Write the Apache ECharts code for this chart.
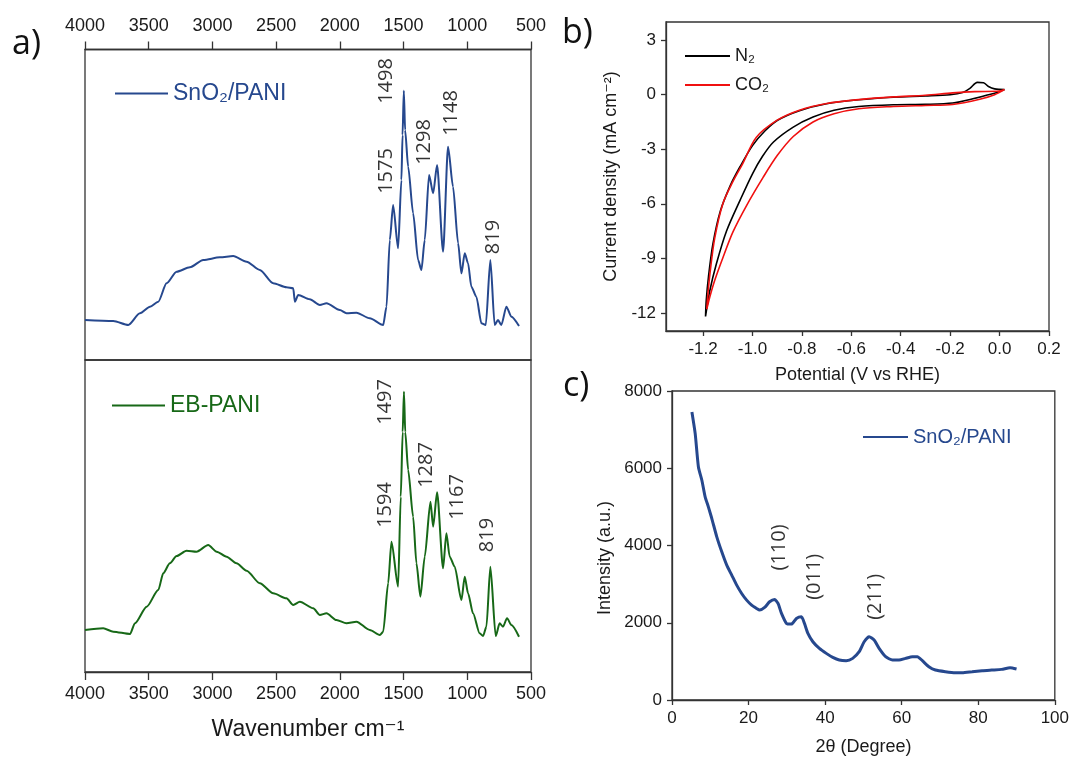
<!DOCTYPE html>
<html><head><meta charset="utf-8">
<script src="https://cdn.jsdelivr.net/npm/echarts@6/dist/echarts.min.js"></script>
<style>html,body{margin:0;padding:0;background:#fff}#c{width:1072px;height:758px}</style>
</head><body><div id="c"></div>
<script>
// ---- Panel a: FTIR (wavenumber cm-1, relative transmittance a.u.) ----
const snPaniFTIR = [[4000,40],[3778,39],[3660,35],[3569,46.7],[3490,53.3],[3425,58.3],[3360,76.7],[3281,88.3],[3177,92.7],[3072,100],[2941,102.7],[2837,104],[2732,98.3],[2628,90],[2523,76.7],[2419,72.7],[2366,71.7],[2353,58.3],[2327,65],[2236,60.7],[2157,55],[2105,56.7],[2000,50],[1948,46.7],[1870,47.3],[1765,41.7],[1660,35],[1634,53.3],[1608,120],[1582,155],[1543,111.7],[1517,180],[1508,225],[1498,269.3],[1488,230],[1464,193.3],[1425,146.7],[1386,100],[1360,90],[1334,120],[1300,185],[1268,166.7],[1237,195],[1190,108.3],[1151,213.3],[1112,173.3],[1072,116.7],[1046,86.7],[1020,106.7],[994,96.7],[968,73.3],[929,63.3],[889,36.7],[855,35],[819,100],[785,35],[759,40],[733,35],[693,53.3],[654,43.3],[594,34]];
const ebPaniFTIR = [[4000,42],[3857,43.7],[3778,40.3],[3647,38],[3608,48.7],[3516,65.3],[3425,82],[3386,98.7],[3334,108.7],[3281,116],[3203,121.3],[3125,120.3],[3033,127],[2967,120.3],[2889,115.3],[2811,108.7],[2732,101.3],[2628,88.7],[2523,78.7],[2419,73.7],[2366,67],[2314,70.3],[2209,63.7],[2157,57],[2105,58.7],[2027,52],[1948,48.7],[1870,50.3],[1765,42],[1686,37],[1660,40.3],[1621,88.7],[1595,130.3],[1543,85.3],[1522,175.3],[1507,240],[1497,280.3],[1487,240],[1464,202],[1425,155.3],[1399,108.7],[1368,75.3],[1334,115.3],[1289,170.3],[1268,145.3],[1237,179.7],[1190,103.7],[1164,138.7],[1138,115.3],[1099,105.3],[1046,72],[1020,95.3],[994,78.7],[955,58.7],[903,38.7],[876,36],[850,45.3],[819,105.3],[777,36],[746,48.7],[720,45.3],[688,53.7],[654,47],[594,35.3]];
const ftirPeaksTop = [[1634,279,'1498'],[1634,189,'1575'],[1334,218,'1298'],[1125,247,'1148'],[798,123,'819']];
const ftirPeaksBottom = [[1640,270,'1497'],[1640,167,'1594'],[1321,207,'1287'],[1078,175,'1167'],[845,137,'819']];

// ---- Panel b: cyclic voltammetry (V vs RHE, mA cm-2) ----
const cvN2 = [[0.02,0.28],[-0.01,0.12],[-0.05,-0.02],[-0.1,-0.2],[-0.19,-0.46],[-0.3,-0.53],[-0.43,-0.55],[-0.57,-0.65],[-0.67,-0.86],[-0.755,-1.23],[-0.835,-1.78],[-0.915,-2.6],[-0.96,-3.4],[-1.0,-4.35],[-1.05,-5.8],[-1.105,-7.5],[-1.146,-9.3],[-1.173,-10.8],[-1.19,-12.2],
  [-1.187,-11.3],[-1.178,-10.0],[-1.16,-8.2],[-1.13,-6.4],[-1.09,-5.0],[-1.05,-3.95],[-1.0,-2.8],[-0.95,-2.0],[-0.9,-1.42],[-0.81,-0.88],[-0.7,-0.5],[-0.57,-0.28],[-0.43,-0.14],[-0.3,-0.07],[-0.2,0.0],[-0.15,0.12],[-0.12,0.35],[-0.09,0.68],[-0.065,0.66],[-0.045,0.45],[-0.02,0.32],[0.02,0.28]];
const cvCO2 = [[0.02,0.28],[-0.02,0.0],[-0.08,-0.25],[-0.19,-0.54],[-0.3,-0.59],[-0.43,-0.65],[-0.57,-0.77],[-0.67,-1.05],[-0.755,-1.5],[-0.835,-2.3],[-0.9,-3.35],[-0.957,-4.55],[-1.024,-6.1],[-1.079,-7.55],[-1.119,-8.94],[-1.153,-10.22],[-1.173,-11.14],[-1.185,-11.8],
  [-1.18,-10.9],[-1.17,-9.6],[-1.153,-7.9],[-1.12,-6.0],[-1.08,-4.8],[-1.04,-3.8],[-0.985,-2.35],[-0.9,-1.4],[-0.81,-0.85],[-0.7,-0.48],[-0.57,-0.27],[-0.43,-0.12],[-0.3,-0.03],[-0.19,0.1],[-0.1,0.17],[0.0,0.2],[0.02,0.28]];
const cvPotentialTicks = [-1.2,-1.0,-0.8,-0.6,-0.4,-0.2,0.0,0.2];
const cvCurrentTicks = [-12,-9,-6,-3,0,3];

// ---- Panel c: XRD (2theta degree, intensity a.u.) ----
const xrdSnPani = [[5.2,7457],[6.06,6896],[6.9,6034],[7.8,5690],[8.66,5258],[9.5,5000],[10.4,4698],[11.7,4224],[13,3836],[14.3,3491],[15.6,3233],[16.9,2974],[18.2,2758],[19.5,2586],[20.8,2457],[22.1,2371],[22.9,2327],[24.2,2396],[25.5,2543],[26.8,2603],[27.7,2500],[28.6,2241],[29.9,1983],[31.2,1965],[32.5,2112],[33.8,2155],[34.6,1983],[35.5,1724],[36.8,1509],[38.5,1336],[40.3,1207],[42,1103],[43.7,1034],[45.5,1017],[47.2,1078],[48.9,1250],[50.2,1509],[51.5,1638],[52.8,1552],[54.1,1336],[55.8,1121],[57.6,1034],[59.3,1034],[61,1078],[62.8,1121],[64.1,1121],[65.4,1017],[67.1,862],[68.8,776],[71.4,733],[74,707],[75.8,707],[78.4,733],[81,759],[83.5,776],[86.1,793],[88.3,836],[90,802]];
const xrdPeaks = [[28.1,3950,'(110)'],[37.2,3190,'(011)'],[53.2,2672,'(211)']];

const BLUE = '#26488e', GREEN = '#176817', AX = '#333', TXT = '#1a1a1a';
const FF = "'Liberation Sans', 'DejaVu Sans', Arial, sans-serif";
const LF = "'Open Sans', 'Liberation Sans', sans-serif";
const plain = v => String(v);

function toLabels(arr){ return arr.map(d => ({value:[d[0], d[1]], name:d[2]})); }
function labelSeries(xi, yi, arr, size){
  return {type:'scatter', xAxisIndex:xi, yAxisIndex:yi, data:toLabels(arr), symbolSize:1,
    itemStyle:{color:'rgba(0,0,0,0)'}, silent:true, z:5,
    label:{show:true, position:'inside', rotate:90, formatter:'{b}', fontSize:size, fontFamily:LF, color:'#000'}};
}
const gridBase = {show:true, borderColor:AX, borderWidth:1.3, backgroundColor:'transparent', containLabel:false};
const lineAx = {lineStyle:{color:AX, width:1.3}, onZero:false};

const option = {
  animation:false,
  grid:[
    Object.assign({left:85, top:49.5, width:446, height:310.5}, gridBase),
    Object.assign({left:85, top:360, width:446, height:312}, gridBase),
    Object.assign({left:666, top:22, width:383, height:309}, gridBase),
    Object.assign({left:672, top:391, width:385, height:309}, gridBase)
  ],
  xAxis:[
    {gridIndex:0, type:'value', position:'top', inverse:true, min:500, max:4000, interval:500,
     axisLine:lineAx, splitLine:{show:false},
     axisTick:{show:true, inside:false, length:8, lineStyle:{color:AX, width:1.3}},
     axisLabel:{show:true, margin:14, fontSize:18, fontFamily:FF, color:TXT, formatter:plain}},
    {gridIndex:1, type:'value', position:'bottom', inverse:true, min:500, max:4000, interval:500,
     axisLine:lineAx, splitLine:{show:false},
     axisTick:{show:true, inside:false, length:8, lineStyle:{color:AX, width:1.3}},
     axisLabel:{show:true, margin:13, fontSize:18, fontFamily:FF, color:TXT, formatter:plain},
     name:'Wavenumber cm\u207B\u00B9', nameLocation:'middle', nameGap:46,
     nameTextStyle:{fontSize:23, fontFamily:FF, color:TXT}},
    {gridIndex:2, type:'value', min:-1.35, max:0.2,
     axisLine:lineAx, splitLine:{show:false},
     axisTick:{show:true, length:5, customValues:cvPotentialTicks, lineStyle:{color:AX, width:1.3}},
     axisLabel:{show:true, margin:10, fontSize:17, fontFamily:FF, color:TXT, customValues:cvPotentialTicks,
       formatter:v => Number(v).toFixed(1)},
     name:'Potential (V vs RHE)', nameLocation:'middle', nameGap:35,
     nameTextStyle:{fontSize:18, fontFamily:FF, color:TXT}},
    {gridIndex:3, type:'value', min:0, max:100, interval:20,
     axisLine:lineAx, splitLine:{show:false},
     axisTick:{show:true, length:5, lineStyle:{color:AX, width:1.3}},
     axisLabel:{show:true, margin:10, fontSize:17, fontFamily:FF, color:TXT, formatter:plain},
     name:'2\u03B8 (Degree)', nameLocation:'middle', nameGap:38,
     nameTextStyle:{fontSize:18, fontFamily:FF, color:TXT}}
  ],
  yAxis:[
    {gridIndex:0, type:'value', min:0, max:310.5, show:false},
    {gridIndex:1, type:'value', min:0, max:312, show:false},
    {gridIndex:2, type:'value', min:-13, max:4,
     axisLine:lineAx, splitLine:{show:false},
     axisTick:{show:true, length:5, customValues:cvCurrentTicks, lineStyle:{color:AX, width:1.3}},
     axisLabel:{show:true, margin:10, fontSize:17, fontFamily:FF, color:TXT, customValues:cvCurrentTicks,
       formatter:v => String(Math.round(v))},
     name:'Current density (mA cm\u207B\u00B2)', nameLocation:'middle', nameGap:46,
     nameTextStyle:{fontSize:18, fontFamily:FF, color:TXT}},
    {gridIndex:3, type:'value', min:0, max:8000, interval:2000,
     axisLine:lineAx, splitLine:{show:false},
     axisTick:{show:true, length:5, lineStyle:{color:AX, width:1.3}},
     axisLabel:{show:true, margin:10, fontSize:17, fontFamily:FF, color:TXT, formatter:plain},
     name:'Intensity (a.u.)', nameLocation:'middle', nameGap:58,
     nameTextStyle:{fontSize:18, fontFamily:FF, color:TXT, padding:[0,25,0,0]}}
  ],
  legend:[
    {data:['SnO\u2082/PANI'], left:115, top:82, padding:0, icon:'rect', itemWidth:53, itemHeight:2,
     textStyle:{color:BLUE, fontSize:23, fontFamily:FF}},
    {data:['EB-PANI'], left:112, top:394, padding:0, icon:'rect', itemWidth:53, itemHeight:2,
     textStyle:{color:GREEN, fontSize:23, fontFamily:FF}},
    {data:['N\u2082','CO\u2082'], left:685, top:47, orient:'vertical', itemGap:11, padding:0, icon:'rect', itemWidth:45, itemHeight:2,
     textStyle:{color:TXT, fontSize:18, fontFamily:FF}},
    {data:['SnO\u2082/PANI XRD'], left:863, top:427, padding:0, icon:'rect', itemWidth:45, itemHeight:2,
     formatter:() => 'SnO\u2082/PANI',
     textStyle:{color:BLUE, fontSize:20, fontFamily:FF}}
  ],
  graphic:[
    {type:'text', x:12, y:44, style:{text:'a)', font:"34px 'Open Sans', sans-serif", fill:'#111', verticalAlign:'middle'}},
    {type:'text', x:562, y:33, style:{text:'b)', font:"34px 'Open Sans', sans-serif", fill:'#111', verticalAlign:'middle'}},
    {type:'text', x:563, y:386, style:{text:'c)', font:"34px 'Open Sans', sans-serif", fill:'#111', verticalAlign:'middle'}}
  ],
  series:[
    {name:'SnO\u2082/PANI', type:'line', xAxisIndex:0, yAxisIndex:0, data:snPaniFTIR, symbol:'none', color:BLUE,
     smooth:0.25, smoothMonotone:'x', lineStyle:{width:2, color:BLUE}},
    {name:'EB-PANI', type:'line', xAxisIndex:1, yAxisIndex:1, data:ebPaniFTIR, symbol:'none', color:GREEN,
     smooth:0.25, smoothMonotone:'x', lineStyle:{width:2, color:GREEN}},
    labelSeries(0,0,ftirPeaksTop,20),
    labelSeries(1,1,ftirPeaksBottom,20),
    {name:'N\u2082', type:'line', xAxisIndex:2, yAxisIndex:2, data:cvN2, symbol:'none', color:'#000',
     smooth:0.3, lineStyle:{width:1.6, color:'#000'}},
    {name:'CO\u2082', type:'line', xAxisIndex:2, yAxisIndex:2, data:cvCO2, symbol:'none', color:'#f01010',
     smooth:0.3, lineStyle:{width:1.6, color:'#f01010'}},
    {name:'SnO\u2082/PANI XRD', type:'line', xAxisIndex:3, yAxisIndex:3, data:xrdSnPani, symbol:'none', color:BLUE,
     smooth:0.2, lineStyle:{width:3, color:BLUE}},
    labelSeries(3,3,xrdPeaks,20)
  ]
};
const chart = echarts.init(document.getElementById('c'), null, {renderer:'canvas'});
chart.setOption(option);
</script></body></html>
